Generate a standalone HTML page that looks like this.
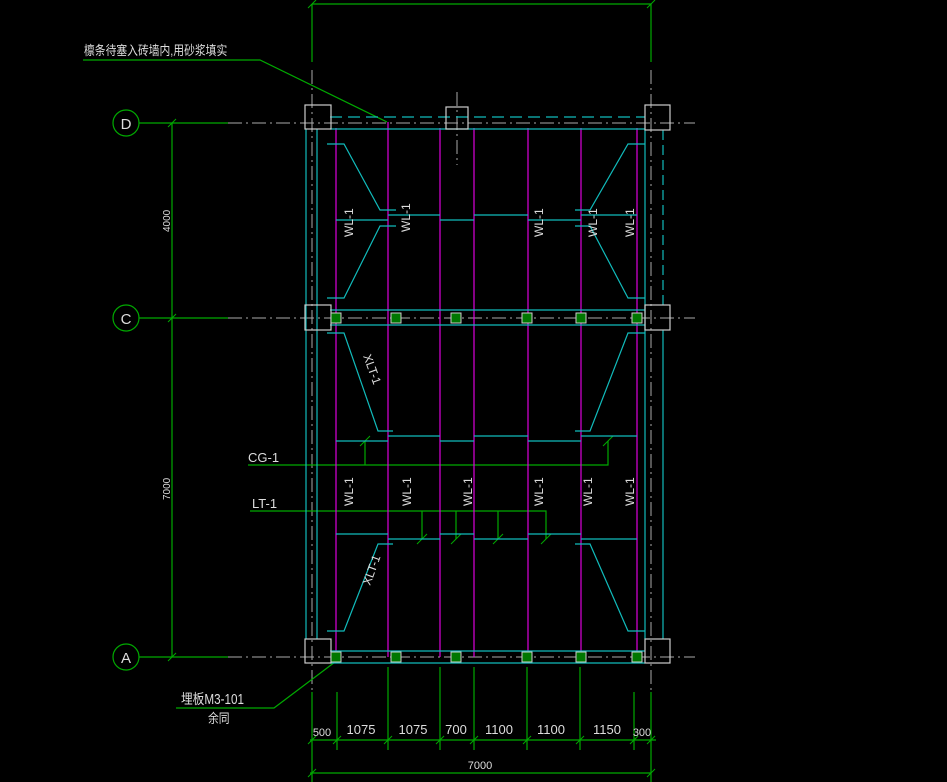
<!DOCTYPE html>
<html><head><meta charset="utf-8"><style>
html,body{margin:0;padding:0;background:#000;}
svg{display:block}
text{font-family:"Liberation Sans","Noto Sans CJK SC",sans-serif;fill:#ddd;}
</style></head><body>
<svg width="947" height="782" viewBox="0 0 947 782" xmlns="http://www.w3.org/2000/svg">
<rect width="947" height="782" fill="#000"/>
<g stroke="#aaa" stroke-width="1" fill="none" stroke-dasharray="14,4,2,4">
<line x1="228" y1="123" x2="695" y2="123"/>
<line x1="228" y1="318" x2="695" y2="318"/>
<line x1="228" y1="657" x2="695" y2="657"/>
<line x1="312" y1="70" x2="312" y2="690"/>
<line x1="651" y1="70" x2="651" y2="690"/>
<line x1="457" y1="92" x2="457" y2="165"/>
</g>
<g stroke="#0a0" stroke-width="1.2" fill="none">
<circle cx="126" cy="123" r="13"/><circle cx="126" cy="318" r="13"/><circle cx="126" cy="657" r="13"/>
<line x1="139" y1="123" x2="228" y2="123"/><line x1="139" y1="318" x2="228" y2="318"/><line x1="139" y1="657" x2="228" y2="657"/>
<line x1="172" y1="123" x2="172" y2="657"/>
<line x1="312" y1="4" x2="651" y2="4"/>
<line x1="312" y1="4" x2="312" y2="62"/><line x1="651" y1="4" x2="651" y2="62"/>
<polyline points="83,60 260,60 387,122"/>
<polyline points="176,708 274,708 335,662"/>
<line x1="310" y1="740" x2="656" y2="740"/>
<line x1="310" y1="773" x2="651" y2="773"/>
<line x1="312" y1="692" x2="312" y2="782"/><line x1="651" y1="692" x2="651" y2="782"/>
<line x1="337" y1="692" x2="337" y2="750"/><line x1="388" y1="667" x2="388" y2="750"/>
<line x1="440" y1="667" x2="440" y2="750"/><line x1="474" y1="667" x2="474" y2="750"/>
<line x1="527" y1="667" x2="527" y2="750"/><line x1="580" y1="667" x2="580" y2="750"/>
<line x1="634" y1="692" x2="634" y2="750"/>
<polyline points="248,465 608,465 608,441"/>
<line x1="365" y1="465" x2="365" y2="441"/>
<polyline points="250,511 546,511 546,539"/>
<line x1="422" y1="511" x2="422" y2="539"/><line x1="456" y1="511" x2="456" y2="539"/><line x1="498" y1="511" x2="498" y2="539"/>
<g stroke-width="1">
<line x1="360" y1="446" x2="370" y2="436"/><line x1="603" y1="446" x2="613" y2="436"/>
<line x1="417" y1="544" x2="427" y2="534"/><line x1="451" y1="544" x2="461" y2="534"/>
<line x1="493" y1="544" x2="503" y2="534"/><line x1="541" y1="544" x2="551" y2="534"/>
<line x1="168" y1="127" x2="176" y2="119"/><line x1="168" y1="322" x2="176" y2="314"/><line x1="168" y1="661" x2="176" y2="653"/>
<line x1="308" y1="744" x2="316" y2="736"/><line x1="333" y1="744" x2="341" y2="736"/><line x1="384" y1="744" x2="392" y2="736"/>
<line x1="436" y1="744" x2="444" y2="736"/><line x1="470" y1="744" x2="478" y2="736"/><line x1="523" y1="744" x2="531" y2="736"/>
<line x1="576" y1="744" x2="584" y2="736"/><line x1="630" y1="744" x2="638" y2="736"/><line x1="647" y1="744" x2="655" y2="736"/>
<line x1="308" y1="777" x2="316" y2="769"/><line x1="647" y1="777" x2="655" y2="769"/>
<line x1="308" y1="8" x2="316" y2="0"/><line x1="647" y1="8" x2="655" y2="0"/>
</g>
</g>
<g stroke="#d0d" stroke-width="1.2">
<line x1="336" y1="128" x2="336" y2="657"/><line x1="388" y1="122" x2="388" y2="657"/>
<line x1="440" y1="128" x2="440" y2="657"/><line x1="474" y1="128" x2="474" y2="657"/>
<line x1="528" y1="128" x2="528" y2="657"/><line x1="581" y1="128" x2="581" y2="657"/>
<line x1="637" y1="128" x2="637" y2="657"/>
</g>
<g stroke="#1bb" stroke-width="1.2" fill="none">
<line x1="330" y1="117" x2="645" y2="117" stroke-dasharray="12,6"/>
<line x1="330" y1="129" x2="645" y2="129"/>
<line x1="330" y1="310" x2="645" y2="310"/><line x1="330" y1="325" x2="645" y2="325"/>
<line x1="330" y1="651" x2="645" y2="651"/><line x1="330" y1="663" x2="645" y2="663"/>
<line x1="306" y1="129" x2="306" y2="639"/><line x1="317" y1="129" x2="317" y2="639"/>
<line x1="645" y1="129" x2="645" y2="639"/>
<line x1="663" y1="130" x2="663" y2="305" stroke-dasharray="10,5"/>
<line x1="663" y1="330" x2="663" y2="639"/>
<polyline points="327,144 344,144 380,210 396,210"/>
<polyline points="327,298 344,298 380,226 396,226"/>
<polyline points="645,144 628,144 590,210 575,210"/>
<polyline points="645,298 628,298 590,226 575,226"/>
<line x1="388" y1="215" x2="440" y2="215"/><line x1="474" y1="215" x2="528" y2="215"/><line x1="581" y1="215" x2="637" y2="215"/>
<line x1="336" y1="220" x2="388" y2="220"/><line x1="440" y1="220" x2="474" y2="220"/><line x1="528" y1="220" x2="581" y2="220"/>
<polyline points="327,333 344,333 378,431 393,431"/>
<polyline points="645,333 628,333 590,431 575,431"/>
<line x1="388" y1="436" x2="440" y2="436"/><line x1="474" y1="436" x2="528" y2="436"/><line x1="581" y1="436" x2="637" y2="436"/>
<line x1="336" y1="441" x2="388" y2="441"/><line x1="440" y1="441" x2="474" y2="441"/><line x1="528" y1="441" x2="581" y2="441"/>
<line x1="336" y1="534" x2="388" y2="534"/><line x1="440" y1="534" x2="474" y2="534"/><line x1="528" y1="534" x2="581" y2="534"/>
<line x1="388" y1="539" x2="440" y2="539"/><line x1="474" y1="539" x2="528" y2="539"/><line x1="581" y1="539" x2="637" y2="539"/>
<polyline points="327,631 344,631 378,544 393,544"/>
<polyline points="645,631 628,631 590,544 575,544"/>
</g>
<g stroke="#ccc" stroke-width="1.2" fill="none">
<rect x="305" y="105" width="26" height="24"/><rect x="446" y="107" width="22" height="22"/><rect x="645" y="105" width="25" height="25"/>
<rect x="305" y="305" width="26" height="25"/><rect x="645" y="305" width="25" height="25"/>
<rect x="305" y="639" width="26" height="24"/><rect x="645" y="639" width="25" height="24"/>
</g>
<g fill="#070" stroke="#ccc" stroke-width="1">
<rect x="331" y="313" width="10" height="10"/><rect x="391" y="313" width="10" height="10"/><rect x="451" y="313" width="10" height="10"/>
<rect x="522" y="313" width="10" height="10"/><rect x="576" y="313" width="10" height="10"/><rect x="632" y="313" width="10" height="10"/>
<rect x="331" y="652" width="10" height="10"/><rect x="391" y="652" width="10" height="10"/><rect x="451" y="652" width="10" height="10"/>
<rect x="522" y="652" width="10" height="10"/><rect x="576" y="652" width="10" height="10"/><rect x="632" y="652" width="10" height="10"/>
</g>
<g font-size="15" text-anchor="middle">
<text x="126" y="129">D</text><text x="126" y="324">C</text><text x="126" y="663">A</text>
</g>
<g font-size="12">
<text transform="translate(353,237) rotate(-90)">WL-1</text>
<text transform="translate(410,232) rotate(-90)">WL-1</text>
<text transform="translate(543,237) rotate(-90)">WL-1</text>
<text transform="translate(597,237) rotate(-90)">WL-1</text>
<text transform="translate(634,237) rotate(-90)">WL-1</text>
<text transform="translate(353,506) rotate(-90)">WL-1</text>
<text transform="translate(411,506) rotate(-90)">WL-1</text>
<text transform="translate(472,506) rotate(-90)">WL-1</text>
<text transform="translate(543,506) rotate(-90)">WL-1</text>
<text transform="translate(592,506) rotate(-90)">WL-1</text>
<text transform="translate(634,506) rotate(-90)">WL-1</text>
<text transform="translate(363,356) rotate(70)">XLT-1</text>
<text transform="translate(370,586) rotate(-70)">XLT-1</text>
<text x="248" y="462" font-size="13">CG-1</text>
<text x="252" y="508" font-size="13">LT-1</text>
<text transform="translate(170,232) rotate(-90)" font-size="10">4000</text>
<text transform="translate(170,500) rotate(-90)" font-size="10">7000</text>
<text transform="translate(84,55) scale(0.9,1.1)" font-size="12">檩条待塞入砖墙内,用砂浆填实</text>
<text transform="translate(181,704) scale(0.9,1.1)" font-size="13">埋板M3-101</text>
<text transform="translate(208,723) scale(0.9,1.1)" font-size="12">余同</text>
</g>
<g font-size="13" text-anchor="middle">
<text x="322" y="736" font-size="11">500</text>
<text x="361" y="734">1075</text><text x="413" y="734">1075</text><text x="456" y="734">700</text>
<text x="499" y="734">1100</text><text x="551" y="734">1100</text><text x="607" y="734">1150</text>
<text x="642" y="736" font-size="11">300</text>
<text x="480" y="769" font-size="11">7000</text>
</g>
</svg>
</body></html>
